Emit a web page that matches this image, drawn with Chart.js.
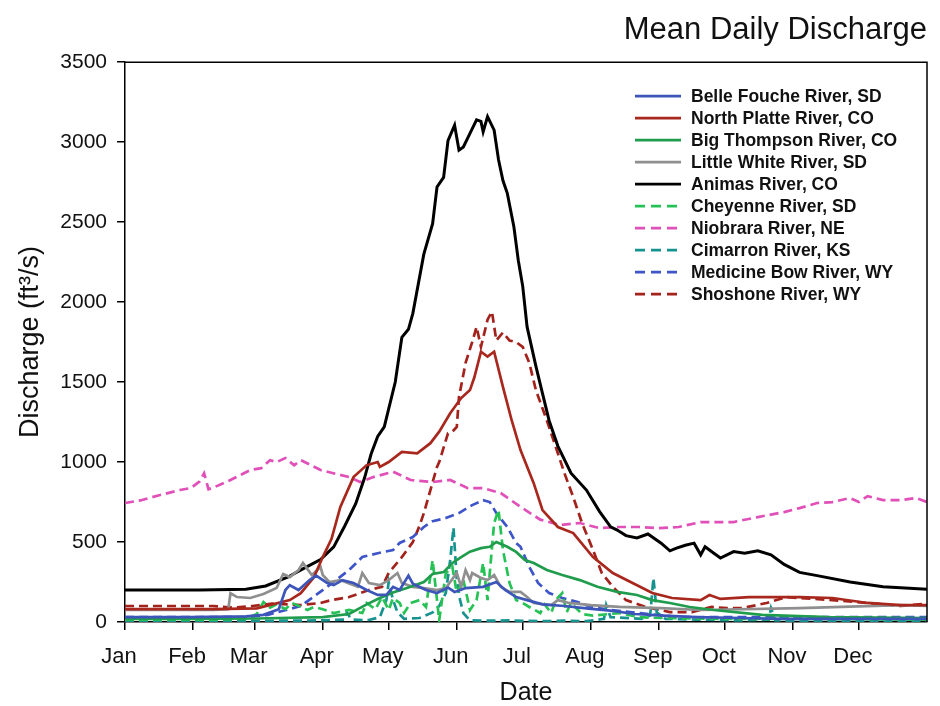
<!DOCTYPE html>
<html>
<head>
<meta charset="utf-8">
<script src="https://cdn.jsdelivr.net/npm/chart.js@4.4.1/dist/chart.umd.min.js"></script>
<style>
  html, body { margin: 0; padding: 0; background: #ffffff; }
  #wrap { width: 940px; height: 706px; position: relative; }
</style>
</head>
<body>
<div id="wrap"><canvas id="c" width="940" height="706"></canvas></div>
<script>
// ---------- DATA (day of year, mean daily discharge ft3/s) ----------
const monthLabels = ["Jan","Feb","Mar","Apr","May","Jun","Jul","Aug","Sep","Oct","Nov","Dec"];
const monthStartDays = [0,31,59,90,120,151,181,212,243,273,304,334];
const yTicks = [0,500,1000,1500,2000,2500,3000,3500];

const seriesNames = [
  "Belle Fouche River, SD","North Platte River, CO","Big Thompson River, CO","Little White River, SD",
  "Animas River, CO","Cheyenne River, SD","Niobrara River, NE","Cimarron River, KS",
  "Medicine Bow River, WY","Shoshone River, WY"
];

const belleDays = [0,30,55,63,70,73,75,79,84,87,92,95,99,104,110,115,119,122,125,129,131,137,142,147,150,155,163,169,173,178,183,190,200,210,222,232,245,260,280,300,365];
const belleFlow = [30,30,35,45,80,200,230,200,262,290,244,231,262,244,200,169,169,220,200,290,240,200,181,215,188,212,220,250,200,156,137,110,100,85,70,50,40,30,25,20,20];

const platteDays = [0,20,40,60,75,80,86,90,94,98,104,110,115,116,120,126,133,139,143,148,153,157,159,162,165,168,172,176,180,186,190,197,204,213,222,231,240,249,262,266,271,284,307,322,338,353,365];
const platteFlow = [80,80,80,85,137,180,280,406,520,720,906,981,1000,970,1000,1063,1055,1118,1190,1305,1400,1450,1530,1690,1660,1690,1470,1260,1075,868,700,594,556,406,306,244,181,150,137,169,144,156,156,150,119,106,106];

const thompsonDays = [0,30,60,90,102,110,116,122,130,136,140,145,149,153,157,162,166,169,174,178,182,186,192,199,207,215,224,233,240,248,257,268,290,320,365];
const thompsonFlow = [20,20,22,30,50,110,150,185,220,250,300,312,369,406,440,462,470,500,470,438,387,369,325,294,262,220,188,169,137,119,94,75,45,30,25];

const whiteDays = [0,20,40,47,48,51,57,63,69,72,75,79,81,85,89,90,93,98,102,106,108,111,116,120,124,126,131,136,142,146,151,153,155,157,158,162,165,168,171,175,180,183,186,194,197,202,212,225,244,262,307,353,365];
const whiteFlow = [75,75,75,80,180,156,150,175,212,300,281,325,369,294,344,294,250,262,240,220,306,244,231,262,306,244,220,212,200,212,306,220,325,262,306,275,262,294,220,188,188,156,119,106,137,119,106,94,87,75,87,106,100];

const animasDays = [0,16,34,55,64,74,82,89,95,100,105,109,112,115,118,123,126,129,131,136,140,142,145,147,150,152,154,157,160,162,163,165,168,170,172,174,177,179,181,183,187,190,193,197,203,210,216,221,224,228,233,238,244,248,251,255,259,262,264,268,271,277,282,288,294,300,307,315,330,345,365];
const animasFlow = [200,200,200,205,225,280,340,390,470,600,740,900,1050,1160,1220,1500,1780,1830,1930,2300,2490,2720,2780,3010,3106,2950,2970,3055,3140,3130,3065,3160,3075,2890,2760,2680,2470,2260,2100,1845,1600,1430,1260,1100,930,825,690,595,575,540,525,550,493,445,462,480,493,420,470,430,400,440,430,445,420,360,310,290,250,220,205];

const cheyenneDays = [0,20,40,55,60,63,66,69,73,76,80,83,86,90,95,102,108,110,114,117,120,122,125,127,130,134,137,140,142,143,146,149,151,154,157,160,163,165,166,168,170,172,175,178,181,184,189,191,194,196,199,201,203,208,213,225,234,244,270,300,365];
const cheyenneFlow = [15,15,15,20,50,125,90,110,80,119,95,75,94,80,56,75,56,119,80,156,75,150,119,56,119,137,94,387,137,12,306,344,181,262,75,137,369,137,306,619,700,450,244,137,119,94,56,110,56,137,181,60,119,50,40,56,30,25,20,20,15];

const niobraraDays = [0,7,16,25,30,34,36,38,41,48,57,62,66,69,73,77,80,89,102,107,113,122,130,140,148,156,163,171,180,189,198,207,216,225,234,243,252,262,277,288,300,307,315,322,330,334,338,345,353,360,365];
const niobraraFlow = [744,760,794,825,838,880,930,830,845,888,950,962,1012,1000,1025,980,1012,950,906,875,906,940,888,875,888,837,837,806,720,640,606,619,587,594,594,587,594,625,625,656,687,712,744,750,775,750,787,762,762,775,750];

const cimarronDays = [0,40,70,90,100,101,103,110,116,119,120,122,124,127,134,140,143,146,148,149.5,151,152.5,154,157,165,175,190,200,210,218,219,221,235,239,240.5,242,246,260,280,293,294,296,320,365];
const cimarronFlow = [5,5,8,10,15,60,15,10,30,140,250,137,60,20,25,60,100,181,387,590,262,137,56,10,8,10,5,8,5,20,106,30,20,40,275,60,20,15,10,15,87,10,5,5];

const medbowDays = [0,20,40,55,65,72,80,86,94,102,108,115,122,125,131,136,140,146,152,158,163,166,169,174,178,180,184,188,193,199,206,212,221,234,252,300,365];
const medbowFlow = [30,30,30,30,45,70,100,160,240,325,406,430,450,494,531,594,630,650,681,731,762,750,681,594,494,470,344,244,181,150,125,94,75,56,31,30,30];

const shoshoneDays = [0,20,40,49,58,67,80,89,94,102,111,117,120,126,131,134,136,139,142,143,147,149,151,152,155,158,160,162,165,167,169,172,175,178,181,184,187,192,197,200,204,208,213,217,222,228,237,248,258,267,274,281,292,301,307,322,338,353,365];
const shoshoneFlow = [100,100,100,90,100,115,106,119,137,156,200,220,306,406,500,600,680,825,970,1000,1180,1190,1220,1406,1620,1750,1845,1720,1890,1940,1760,1810,1760,1750,1720,1620,1450,1260,1055,930,781,619,450,306,220,137,94,62,62,94,87,87,119,156,150,137,119,100,115];

const seriesDays = [belleDays, platteDays, thompsonDays, whiteDays, animasDays, cheyenneDays, niobraraDays, cimarronDays, medbowDays, shoshoneDays];
const seriesFlow = [belleFlow, platteFlow, thompsonFlow, whiteFlow, animasFlow, cheyenneFlow, niobraraFlow, cimarronFlow, medbowFlow, shoshoneFlow];

// ---------- STYLE ----------
const seriesColors = ["#3d55b8","#a8281e","#1f9c4c","#8f8f8f","#000000","#27c256","#e050b8","#17938f","#3d55c8","#a3221c"];
const seriesDashed = [false,false,false,false,false,true,true,true,true,true];
const FONT = "'Liberation Sans', Arial, Helvetica, sans-serif";

const datasets = seriesNames.map((name, i) => ({
  label: name,
  data: seriesDays[i].map((d, k) => ({ x: d, y: seriesFlow[i][k] })),
  borderColor: seriesColors[i],
  backgroundColor: seriesColors[i],
  borderWidth: i === 4 ? 3 : 2.7,
  borderDash: seriesDashed[i] ? [9, 5] : [],
  pointRadius: 0,
  tension: 0,
  fill: false
}));

const framePlugin = {
  id: 'frame',
  afterDatasetsDraw(chart) {
    const { ctx, chartArea: a } = chart;
    ctx.save();
    ctx.strokeStyle = '#000';
    ctx.lineWidth = 1.5;
    ctx.beginPath();
    ctx.moveTo(a.left, a.top);
    ctx.lineTo(a.right, a.top);
    ctx.lineTo(a.right, a.bottom);
    ctx.stroke();
    ctx.restore();
  }
};

const legendPlugin = {
  id: 'insideLegend',
  afterDraw(chart) {
    const { ctx, chartArea: a } = chart;
    const x0 = a.right - 292;
    const y0 = a.top + 34;
    const step = 22;
    ctx.save();
    ctx.font = "bold 17.5px " + FONT;
    ctx.textBaseline = 'middle';
    ctx.textAlign = 'left';
    chart.data.datasets.forEach((ds, i) => {
      const y = y0 + i * step;
      const dashed = ds.borderDash && ds.borderDash.length;
      ctx.strokeStyle = ds.borderColor;
      ctx.lineWidth = 2.8;
      ctx.setLineDash(dashed ? [10, 6] : []);
      ctx.beginPath();
      ctx.moveTo(x0, y);
      ctx.lineTo(x0 + (dashed ? 42 : 46), y);
      ctx.stroke();
      ctx.setLineDash([]);
      ctx.fillStyle = '#111';
      ctx.fillText(ds.label, x0 + 56, y + 1);
    });
    ctx.restore();
  }
};

new Chart(document.getElementById('c'), {
  type: 'line',
  data: { datasets },
  plugins: [framePlugin, legendPlugin],
  options: {
    responsive: false,
    animation: false,
    layout: { padding: { left: 8, right: 13, top: 0, bottom: 0 } },
    plugins: {
      legend: { display: false },
      tooltip: { enabled: false },
      title: {
        display: true,
        text: 'Mean Daily Discharge',
        align: 'end',
        color: '#111',
        font: { family: FONT, size: 31, weight: 'normal' },
        padding: { top: 12, bottom: 13 }
      }
    },
    scales: {
      x: {
        type: 'linear',
        min: 0,
        max: 365,
        afterBuildTicks(scale) { scale.ticks = monthStartDays.map(v => ({ value: v })); },
        afterFit(scale) { scale.height = 84; },
        ticks: {
          autoSkip: false,
          maxRotation: 0,
          color: '#111',
          padding: 14,
          labelOffset: -6,
          font: { family: FONT, size: 22 },
          callback(value, index) { return monthLabels[index]; }
        },
        grid: { drawOnChartArea: false, drawTicks: true, tickLength: 8, color: '#000', lineWidth: 1.5 },
        border: { display: true, color: '#000', width: 1.5 },
        title: { display: true, text: 'Date', color: '#111', font: { family: FONT, size: 25 }, padding: { top: 0, bottom: -2 } }
      },
      y: {
        type: 'linear',
        min: 0,
        max: 3500,
        afterBuildTicks(scale) { scale.ticks = yTicks.map(v => ({ value: v })); },
        afterFit(scale) { scale.width = 117; },
        ticks: { color: '#111', padding: 10, font: { family: FONT, size: 21 }, callback(value) { return String(value); } },
        grid: { drawOnChartArea: false, drawTicks: true, tickLength: 8, color: '#000', lineWidth: 1.5 },
        border: { display: true, color: '#000', width: 1.5 },
        title: { display: true, text: 'Discharge (ft³/s)', color: '#111', font: { family: FONT, size: 27 }, padding: { top: 6, bottom: 0 } }
      }
    }
  }
});
</script>
</body>
</html>
